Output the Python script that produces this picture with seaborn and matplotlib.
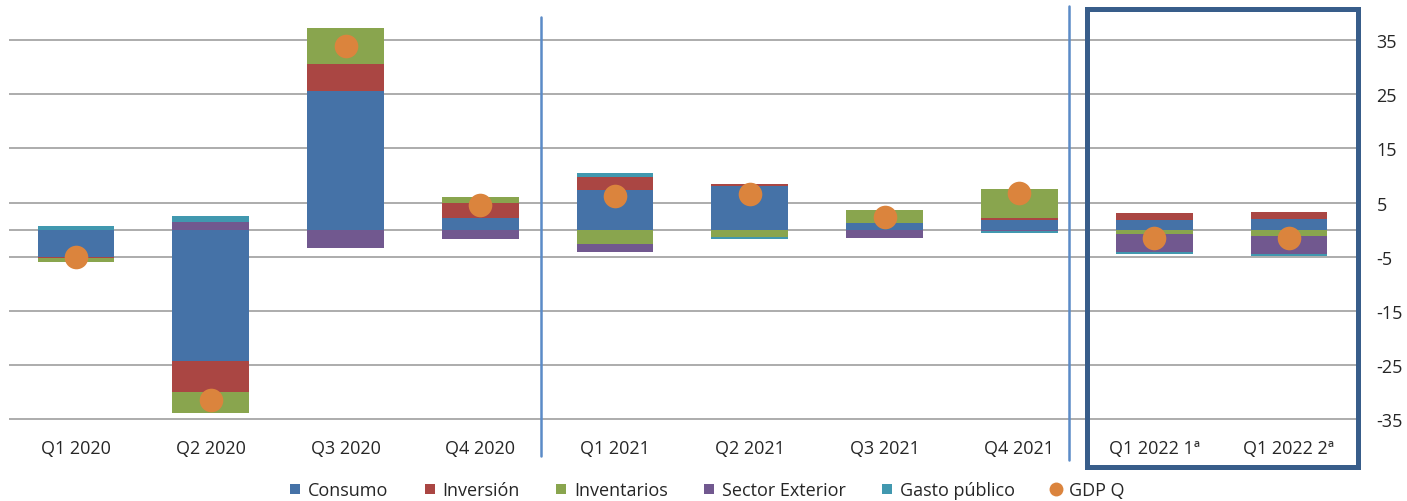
import numpy as np
import pandas as pd
import matplotlib
matplotlib.use("Agg")
import matplotlib.pyplot as plt
import seaborn as sns
from matplotlib.lines import Line2D
from matplotlib.patches import Rectangle

# ---------------- data ----------------
categories = ["Q1 2020", "Q2 2020", "Q3 2020", "Q4 2020", "Q1 2021",
              "Q2 2021", "Q3 2021", "Q4 2021", "Q1 2022 1ª", "Q1 2022 2ª"]
consumo = [-5.0, -24.3, 25.6, 2.1, 7.4, 8.0, 1.2, 1.75, 1.8, 1.9]
inversion = [-0.3, -5.6, 4.9, 2.9, 2.3, 0.5, 0.0, 0.4, 1.2, 1.3]
inventarios = [-0.6, -4.0, 6.8, 1.0, -2.6, -1.3, 2.45, 5.4, -0.85, -1.2]
sector_exterior = [-0.1, 1.5, -3.4, -1.8, -1.5, 0.0, -1.5, -0.2, -3.2, -3.2]
gasto_publico = [0.6, 1.1, 0.0, 0.0, 0.7, -0.5, 0.0, -0.45, -0.5, -0.5]
gdp_q = [-5.1, -31.4, 33.9, 4.5, 6.3, 6.6, 2.3, 6.8, -1.5, -1.6]
y_ticks = [-35, -25, -15, -5, 5, 15, 25, 35]

series_names = ["Consumo", "Inversión", "Inventarios", "Sector Exterior", "Gasto público"]
series_values = [consumo, inversion, inventarios, sector_exterior, gasto_publico]
series_colors = ["#4572A7", "#AA4643", "#89A54E", "#71588F", "#4198AF"]
gdp_color = "#DB843D"
gdp_label = "GDP Q"

# ---------------- style ----------------
sns.set_theme(style="white")
plt.rcParams["font.family"] = ["Open Sans", "DejaVu Sans"]
text_color = "#262626"
grid_color = "#A6A6A6"

fig = plt.figure(figsize=(14.07, 5.02), dpi=100)
ax = fig.add_axes([0.0061, 0.1584, 0.9640 - 0.0061, 0.9721 - 0.1584])

n = len(categories)
pos = np.zeros(n)
neg = np.zeros(n)
for name, vals, col in zip(series_names, series_values, series_colors):
    v = np.array(vals, dtype=float)
    bottom = np.where(v >= 0, pos, neg)
    df = pd.DataFrame({"cat": categories, "val": v})
    sns.barplot(data=df, x="cat", y="val", order=categories, bottom=bottom,
                color=col, saturation=1, width=0.57, linewidth=0,
                errorbar=None, ax=ax, zorder=2)
    pos += np.where(v > 0, v, 0)
    neg += np.where(v < 0, v, 0)

gdf = pd.DataFrame({"cat": categories, "gdp": gdp_q})
sns.stripplot(data=gdf, x="cat", y="gdp", order=categories, jitter=False,
              size=17, color=gdp_color, linewidth=0, ax=ax, zorder=5)

ax.set_xlim(-0.5, n - 0.5)
ax.set_ylim(-35.4, 40)
ax.set_xlabel("")
ax.set_ylabel("")

ax.yaxis.tick_right()
ax.set_yticks(y_ticks)
ax.set_yticklabels([str(t) for t in y_ticks])
ax.yaxis.grid(True, color=grid_color, linewidth=1.3)
ax.xaxis.grid(False)
ax.set_axisbelow(True)
ax.axhline(0, color=grid_color, linewidth=1.3, zorder=1)
for s in ax.spines.values():
    s.set_visible(False)
ax.tick_params(axis="both", length=0, labelsize=13, colors=text_color)
ax.tick_params(axis="x", pad=12.5)
ax.tick_params(axis="y", pad=14.5)

# separators and highlight box
trans = ax.get_xaxis_transform()
ax.add_line(Line2D([3.45, 3.45], [0.99, -0.084], transform=trans,
                   color="#5B8BC7", lw=1.8, clip_on=False, zorder=6))
ax.add_line(Line2D([7.37, 7.37], [1.017, -0.094], transform=trans,
                   color="#5B8BC7", lw=1.8, clip_on=False, zorder=6))
ax.add_patch(Rectangle((7.5, -0.111), 9.51 - 7.5, 1.0098 + 0.111,
                       transform=trans, fill=False, ec="#385D8A", lw=3.6,
                       clip_on=False, zorder=6))

# legend
handles = [Line2D([], [], marker="s", linestyle="none", markersize=7,
                  markerfacecolor=c, markeredgewidth=0) for c in series_colors]
handles.append(Line2D([], [], marker="o", linestyle="none", markersize=10,
                      markerfacecolor=gdp_color, markeredgewidth=0))
leg = fig.legend(handles, series_names + [gdp_label], loc="center",
                 bbox_to_anchor=(0.502, 0.022), ncol=6, frameon=False,
                 fontsize=13, handletextpad=0.3, columnspacing=1.9,
                 handlelength=0.8, borderaxespad=0)
for t in leg.get_texts():
    t.set_color(text_color)

fig.savefig("out.png", dpi=100)
